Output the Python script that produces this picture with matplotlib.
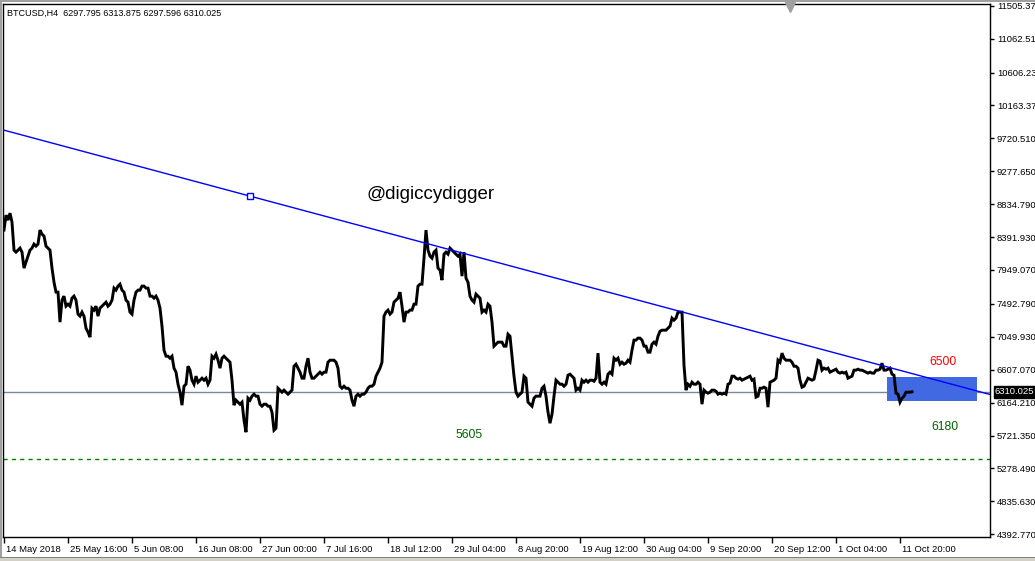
import numpy as np
import matplotlib
matplotlib.use("Agg")
import matplotlib.pyplot as plt
import matplotlib.transforms as mtransforms
from matplotlib.patches import Rectangle

# ---------------- data ----------------
header_text = "BTCUSD,H4  6297.795 6313.875 6297.596 6310.025"

# BTCUSD H4 price, sampled every 2 bars from 14 May 2018
close = [
    8486, 8687, 8620, 8714, 8593, 8216, 8189, 8216, 8243, 8189,
    7974, 8055, 8135, 8216, 8243, 8297, 8270, 8297, 8486, 8432,
    8405, 8270, 8243, 8216, 7974, 7785, 7651, 7651, 7247, 7543,
    7597, 7462, 7489, 7462, 7570, 7597, 7543, 7355, 7328, 7382,
    7328, 7166, 7112, 7045, 7435, 7409, 7462, 7328, 7435, 7462,
    7489, 7516, 7462, 7489, 7543, 7705, 7678, 7732, 7758, 7678,
    7651, 7543, 7516, 7382, 7355, 7543, 7651, 7678, 7678, 7732,
    7732, 7705, 7705, 7597, 7597, 7570, 7597, 7543, 7435, 7193,
    6870, 6789, 6789, 6762, 6789, 6628, 6574, 6412, 6305, 6130,
    6385, 6412, 6654, 6601, 6466, 6412, 6520, 6439, 6466, 6493,
    6466, 6493, 6412, 6466, 6789, 6762, 6816, 6735, 6628, 6762,
    6789, 6762, 6735, 6708, 6466, 6130, 6197, 6170, 6143, 6170,
    5928, 5766, 6224, 6197, 6251, 6278, 6251, 6251, 6143, 6116,
    6143, 6143, 6116, 6116, 6035, 5793, 5820, 6358, 6332, 6305,
    6332, 6305, 6278, 6305, 6332, 6654, 6681, 6628, 6574, 6493,
    6493, 6654, 6762, 6574, 6493, 6493, 6520, 6547, 6574, 6547,
    6574, 6574, 6708, 6735, 6735, 6735, 6708, 6628, 6385, 6358,
    6385, 6358, 6358, 6332, 6197, 6116, 6251, 6278, 6251, 6278,
    6278, 6305, 6358, 6385, 6385, 6412, 6520, 6574, 6628, 6708,
    7328, 7382, 7409, 7355, 7382, 7516, 7543, 7570, 7651, 7462,
    7247, 7382, 7382, 7409, 7409, 7489, 7489, 7732, 7758, 7758,
    8108, 8486, 8216, 8135, 8108, 8189, 8216, 7974, 7947, 7812,
    8162, 8189, 8162, 8243, 8216, 8189, 8162, 8135, 8162, 7866,
    8189, 7839, 7785, 7597, 7543, 7516, 7624, 7597, 7570, 7382,
    7409, 7382, 7489, 7462, 7247, 6924, 6951, 6978, 6978, 6978,
    6924, 6924, 7085, 7058, 6789, 6520, 6305, 6251, 6278, 6305,
    6520, 6493, 6170, 6143, 6116, 6224, 6251, 6251, 6251, 6358,
    6385, 6251, 6035, 5887, 6008, 6251, 6466, 6439, 6412, 6412,
    6385, 6412, 6533, 6547, 6520, 6493, 6332, 6358, 6332, 6466,
    6439, 6466, 6439, 6466, 6466, 6452, 6493, 6830, 6439, 6412,
    6439, 6412, 6547, 6574, 6547, 6762, 6735, 6762, 6681, 6708,
    6681, 6695, 6735, 6708, 6870, 7005, 7005, 7032, 7032, 7005,
    6924, 6924, 6843, 6843, 6951, 6978, 6951, 7058, 7125, 7139,
    7139, 7139, 7166, 7193, 7301, 7274, 7301, 7382, 7382, 7382,
    6668, 6332, 6412, 6385, 6439, 6412, 6412, 6439, 6412, 6143,
    6332, 6305, 6291, 6305, 6332, 6332, 6318, 6278, 6291, 6278,
    6291, 6278, 6412, 6426, 6520, 6520, 6493, 6480, 6493, 6466,
    6480, 6493, 6506, 6520, 6466, 6480, 6238, 6251, 6358, 6358,
    6372, 6358, 6103, 6439, 6452, 6466, 6493, 6735, 6708, 6830,
    6762, 6735, 6735, 6735, 6708, 6654, 6654, 6628, 6466, 6372,
    6385, 6439, 6493, 6480, 6466, 6480, 6601, 6735, 6722, 6601,
    6628, 6614, 6628, 6574, 6588, 6601, 6614, 6574, 6561, 6574,
    6561, 6574, 6493, 6506, 6520, 6601, 6601, 6614, 6601, 6601,
    6588, 6574, 6561, 6574, 6561, 6561, 6601, 6601, 6614, 6695,
    6601, 6601, 6614, 6628, 6547, 6533, 6291, 6278, 6170, 6224,
    6251, 6305, 6305, 6305, 6310,
]
bars_per_sample = 2

x_tick_labels = ["14 May 2018", "25 May 16:00", "5 Jun 08:00", "16 Jun 08:00",
                 "27 Jun 00:00", "7 Jul 16:00", "18 Jul 12:00", "29 Jul 04:00",
                 "8 Aug 20:00", "19 Aug 12:00", "30 Aug 04:00", "9 Sep 20:00",
                 "20 Sep 12:00", "1 Oct 04:00", "11 Oct 20:00"]
x_tick_bars = [0, 64, 128, 192, 256, 320, 384, 448, 512, 576, 640, 704, 768, 832, 896]

y_ticks = [11505.370, 11062.510, 10606.230, 10163.370, 9720.510, 9277.650,
           8834.790, 8391.930, 7949.070, 7492.790, 7049.930, 6607.070,
           6164.210, 5721.350, 5278.490, 4835.630, 4392.770]

last_price = 6310.025
trend_point_1 = (246, 8943)
trend_point_2 = (676, 7392)
support_level = 5410
zone_bars = (883, 973)
zone_prices = (6180, 6515)

# ---------------- figure ----------------
W, H = 1035, 561
fig = plt.figure(figsize=(W / 100, H / 100), dpi=100, facecolor="white")
ax = fig.add_axes([3 / W, 1 - 537 / H, 987 / W, 533 / H])
ax.set_facecolor("white")

bars = np.arange(len(close)) * bars_per_sample
ax.set_xlim(-1, 986)
ax.set_ylim(4356, 11528)

# bid line
ax.axhline(last_price, color="#778899", lw=1.0, zorder=1)
# support dashed line
ax.axhline(support_level, color="#008000", lw=1.0, ls=(0, (3, 3)), zorder=1)
# zone rectangle
ax.add_patch(Rectangle((zone_bars[0], zone_prices[0]), zone_bars[1] - zone_bars[0],
                       zone_prices[1] - zone_prices[0], facecolor="#4169E1",
                       edgecolor="none", zorder=2))
# price
ax.plot(bars, close, color="black", lw=2.1, zorder=3, solid_joinstyle="miter")
# trendline
ax.axline(trend_point_1, trend_point_2, color="#0000FF", lw=1.0, zorder=4)
ax.plot([trend_point_1[0]], [trend_point_1[1]], marker="s", ms=4.5, mfc="white",
        mec="#0000FF", mew=1.0, zorder=5)

# texts
ax.text(362, 8970, "@digiccydigger", fontsize=13.5, family="Liberation Sans",
        color="black", va="center", ha="left", zorder=6)
ax.text(925, 6708, "6500", fontsize=8.8, family="Liberation Sans",
        color="#FF0000", va="center", ha="left", zorder=6)
ax.text(927, 5833, "6180", fontsize=8.8, family="Liberation Sans",
        color="#006400", va="center", ha="left", zorder=6)
ax.text(451, 5726, "5605", fontsize=8.8, family="Liberation Sans",
        color="#006400", va="center", ha="left", zorder=6)

# header
fig.text(7 / W, 1 - 13.5 / H, header_text, fontsize=6.5, family="Liberation Sans",
         color="black", va="center", ha="left")

# axes styling
for s in ax.spines.values():
    s.set_color("black")
    s.set_linewidth(1.0)

ax.yaxis.tick_right()
ax.set_yticks(y_ticks)
ax.set_yticklabels([f"{v:.3f}" for v in y_ticks])
ax.tick_params(axis="y", direction="out", length=3, width=1, pad=2,
               labelsize=6.8, colors="black")
ax.set_xticks(x_tick_bars)
ax.set_xticklabels(x_tick_labels)
ax.tick_params(axis="x", direction="out", length=4, width=1, pad=2,
               labelsize=6.8, colors="black")
offset = mtransforms.ScaledTranslation(1.5 / 100, 0, fig.dpi_scale_trans)
for lbl in ax.get_xticklabels():
    lbl.set_horizontalalignment("left")
    lbl.set_family("Liberation Sans")
    lbl.set_transform(lbl.get_transform() + offset)
for lbl in ax.get_yticklabels():
    lbl.set_family("Liberation Sans")

# current price label box
trans = mtransforms.blended_transform_factory(ax.transAxes, ax.transData)
ax.text(1.0 + 5 / 987, last_price, f"{last_price:.3f}", transform=trans,
        fontsize=6.8, family="Liberation Sans", color="white", va="center",
        ha="left", clip_on=False, zorder=10,
        bbox=dict(boxstyle="square,pad=0.15", facecolor="black", edgecolor="black"))

# chart shift marker at top
trans2 = mtransforms.blended_transform_factory(ax.transData, ax.transAxes)
ax.plot([786], [1 - 3 / 533], marker="v", ms=7, color="#A0A0A0", transform=trans2,
        clip_on=False, zorder=10)

# window borders
fig.patches.append(Rectangle((0, 1 - 2 / H), 1, 2 / H, transform=fig.transFigure,
                             facecolor="#A0A0A0", edgecolor="none"))
fig.patches.append(Rectangle((0, 0), 2 / W, 1, transform=fig.transFigure,
                             facecolor="#A0A0A0", edgecolor="none"))
fig.patches.append(Rectangle((0, 0), 1, 3 / H, transform=fig.transFigure,
                             facecolor="#D4D0C8", edgecolor="none"))
fig.patches.append(Rectangle((0, 3 / H), 1, 1 / H, transform=fig.transFigure,
                             facecolor="#808080", edgecolor="none"))

fig.savefig("out.png", dpi=100, facecolor="white")
